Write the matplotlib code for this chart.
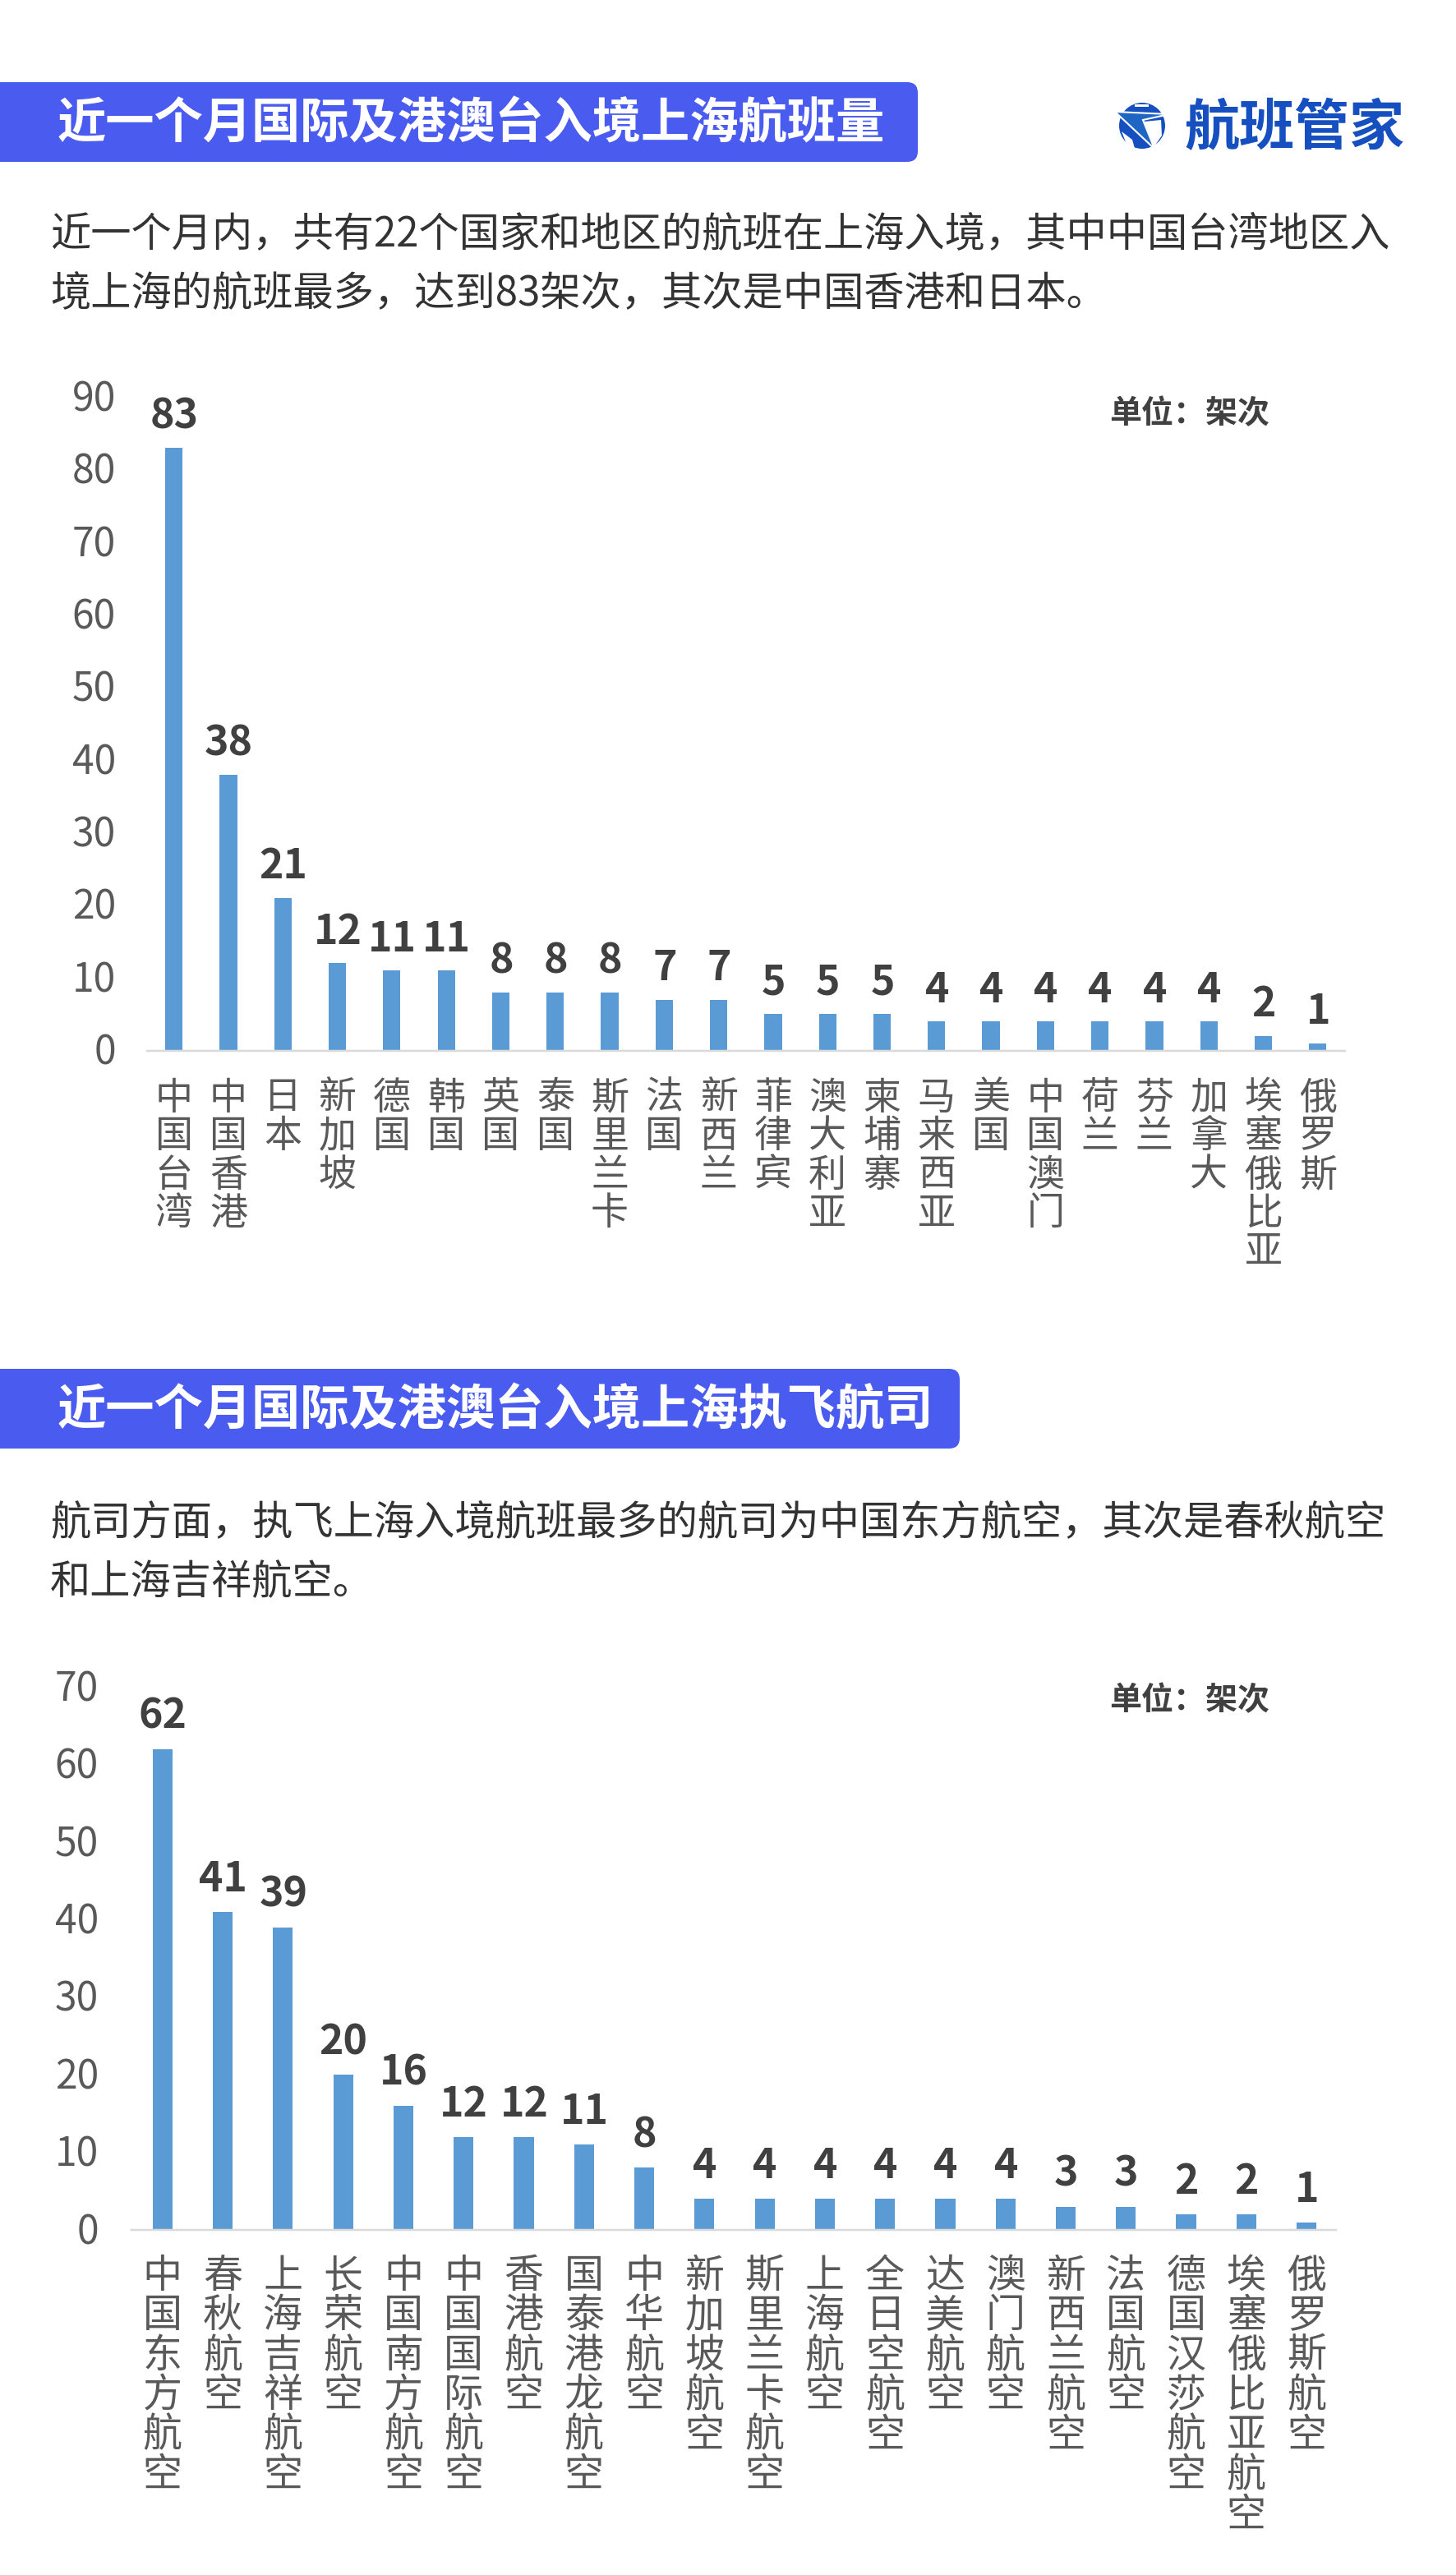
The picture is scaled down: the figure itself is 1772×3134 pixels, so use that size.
import matplotlib
matplotlib.use("Agg")
import matplotlib.pyplot as plt
from matplotlib.patches import Circle, FancyBboxPatch, Polygon, Rectangle
from matplotlib.transforms import ScaledTranslation

plt.rcParams["font.family"] = ["Noto Sans CJK SC", "DejaVu Sans"]

W, H = 1772, 3134
PX = 0.72  # points per pixel at dpi=100

countries = ["中国台湾", "中国香港", "日本", "新加坡", "德国", "韩国", "英国", "泰国",
             "斯里兰卡", "法国", "新西兰", "菲律宾", "澳大利亚", "柬埔寨", "马来西亚",
             "美国", "中国澳门", "荷兰", "芬兰", "加拿大", "埃塞俄比亚", "俄罗斯"]
country_flights = [83, 38, 21, 12, 11, 11, 8, 8, 8, 7, 7, 5, 5, 5, 4, 4, 4, 4, 4, 4, 2, 1]

airlines = ["中国东方航空", "春秋航空", "上海吉祥航空", "长荣航空", "中国南方航空",
            "中国国际航空", "香港航空", "国泰港龙航空", "中华航空", "新加坡航空",
            "斯里兰卡航空", "上海航空", "全日空航空", "达美航空", "澳门航空",
            "新西兰航空", "法国航空", "德国汉莎航空", "埃塞俄比亚航空", "俄罗斯航空"]
airline_flights = [62, 41, 39, 20, 16, 12, 12, 11, 8, 4, 4, 4, 4, 4, 4, 3, 3, 2, 2, 1]

title_1 = "近一个月国际及港澳台入境上海航班量"
title_2 = "近一个月国际及港澳台入境上海执飞航司"
body_1 = ["近一个月内，共有22个国家和地区的航班在上海入境，其中中国台湾地区入",
          "境上海的航班最多，达到83架次，其次是中国香港和日本。"]
body_2 = ["航司方面，执飞上海入境航班最多的航司为中国东方航空，其次是春秋航空",
          "和上海吉祥航空。"]
unit = "单位：架次"
brand = "航班管家"

BAR = "#5B9BD5"
BANNER = "#4A5CF0"
LOGO = "#1650C0"

fig = plt.figure(figsize=(W / 100, H / 100), dpi=100, facecolor="white")

# full figure overlay in pixel coords, for banners / text / logo
bg = fig.add_axes([0, 0, 1, 1])
bg.set_xlim(0, W)
bg.set_ylim(H, 0)
bg.axis("off")


def banner(y0, y1, x1, title, text_x, base):
    bg.add_patch(FancyBboxPatch((-40, y0), x1 + 40, y1 - y0, boxstyle="round,pad=0,rounding_size=13",
                                fc=BANNER, ec="none"))
    bg.text(text_x, base, title, color="white", fontsize=59.3 * PX, fontweight="bold",
            ha="left", va="baseline")


banner(100, 197, 1117, title_1, 70, 168)
banner(1666, 1763, 1168, title_2, 70, 1734)

for y, line in zip([300, 372], body_1):
    bg.text(61, y, line, color="#333333", fontsize=49.2 * PX, ha="left", va="baseline")
for y, line in zip([1868, 1940], body_2):
    bg.text(61, y, line, color="#333333", fontsize=49.2 * PX, ha="left", va="baseline")

# logo
bg.add_patch(Circle((1390, 153), 28, fc=LOGO, ec="none"))
bg.add_patch(Polygon([(1365, 160), (1378, 170), (1382, 184), (1372, 178)], fc="white", ec="none"))
bg.add_patch(Polygon([(1392, 148), (1413, 146), (1414, 165), (1405, 178), (1400, 170)], fc="white", ec="none"))
bg.add_patch(Rectangle((1381, 127), 17, 3, fc="white", ec="none"))
bg.add_patch(Polygon([(1357, 136), (1423, 139), (1391, 146), (1405, 181)], fc="#1F66C4", ec="white", lw=1.5))
bg.text(1441, 176, brand, color=LOGO, fontsize=67 * PX, fontweight="bold", ha="left", va="baseline")


def bar_chart(rect, labels, values, ymax, xlim, bar_w, tick_pad, gap, first_base, step, cat_size, unit_base):
    x0, y0, x1, y1 = rect
    ax = fig.add_axes([x0 / W, 1 - y1 / H, (x1 - x0) / W, (y1 - y0) / H])
    ax.patch.set_alpha(0)
    pos = list(range(len(labels)))
    ax.bar(pos, values, width=bar_w, color=BAR, zorder=2)
    ax.set_xlim(*xlim)
    ax.set_ylim(0, ymax)
    ax.set_yticks(range(0, ymax + 1, 10))
    ax.set_xticks(pos)
    ax.set_xticklabels([])
    ax.tick_params(axis="x", length=0)
    ax.tick_params(axis="y", length=0, pad=tick_pad * PX, labelsize=48 * PX, labelcolor="#595959")
    # tick digits sit a touch above the gridline position
    for lab in ax.get_yticklabels():
        lab.set_transform(lab.get_transform() + ScaledTranslation(0, 2 / 100, fig.dpi_scale_trans))
    for s in ["top", "left", "right"]:
        ax.spines[s].set_visible(False)
    ax.spines["bottom"].set_color("#D9D9D9")
    ax.spines["bottom"].set_linewidth(2.5 * PX)

    for i, v in zip(pos, values):
        ax.annotate(str(v), xy=(i, v), xytext=(0.5 * PX, gap * PX), textcoords="offset points",
                    ha="center", va="baseline", fontsize=50 * PX, fontweight="bold", color="#404040",
                    annotation_clip=False)
        # vertical category text, one glyph per row
        for k, ch in enumerate(labels[i]):
            ax.annotate(ch, xy=(i, 0), xytext=(0, -(first_base + k * step) * PX), textcoords="offset points",
                        ha="center", va="baseline", fontsize=cat_size * PX, color="#595959",
                        annotation_clip=False)
    bg.text(1448, unit_base, unit, color="#404040", fontsize=39 * PX, fontweight="bold", ha="center", va="baseline")
    return ax


bar_chart((179, 483, 1637, 1278.5), countries, country_flights, 90, (-0.493, 21.5), 0.32, 38, 23.5, 71, 47, 46, 515)
bar_chart((160, 2053, 1626, 2714), airlines, airline_flights, 70, (-0.516, 19.49), 0.33, 40, 25, 70, 48.4, 48, 2081)

fig.savefig("out.png", dpi=100)
